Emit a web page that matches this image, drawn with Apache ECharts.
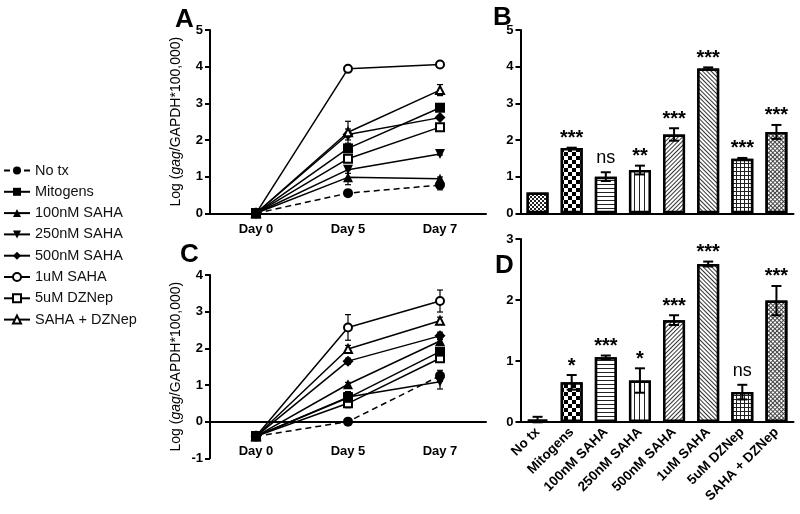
<!DOCTYPE html>
<html><head><meta charset="utf-8">
<script src="https://cdn.jsdelivr.net/npm/echarts@6/dist/echarts.min.js"></script>
<style>html,body{margin:0;padding:0;background:#fff}#c{width:800px;height:514px}</style>
</head><body><div id="c"></div>
<script>
// ---------- data ----------
const days = ['Day 0', 'Day 5', 'Day 7'];
const groups = ['No tx', 'Mitogens', '100nM SAHA', '250nM SAHA', '500nM SAHA', '1uM SAHA', '5uM DZNep', 'SAHA + DZNep'];

// Panel A (values per group at each day)
const A_day0 = [0, 0, 0, 0, 0, 0, 0, 0];
const A_day5 = [0.55, 1.77, 0.98, 1.19, 2.15, 3.94, 1.49, 2.21];
const A_day7 = [0.77, 2.88, 0.94, 1.62, 2.61, 4.06, 2.35, 3.36];
const A_err5 = [0.03, 0.05, 0.2, 0.1, 0.15, 0.03, 0.03, 0.3];
const A_err7 = [0.13, 0.03, 0.05, 0.03, 0.05, 0.02, 0.05, 0.15];

// Panel C
const C_day0 = [-0.4, -0.4, -0.4, -0.4, -0.4, -0.4, -0.4, -0.4];
const C_day5 = [0.0, 0.65, 1.02, 0.67, 1.65, 2.57, 0.5, 1.98];
const C_day7 = [1.25, 1.91, 2.2, 1.09, 2.34, 3.29, 1.73, 2.75];
const C_err5 = [0.05, 0.1, 0.05, 0.15, 0.08, 0.35, 0.12, 0.1];
const C_err7 = [0.15, 0.05, 0.05, 0.2, 0.1, 0.3, 0.1, 0.1];

// Panel B
const B_values = [0.57, 1.78, 1.0, 1.18, 2.15, 3.95, 1.49, 2.22];
const B_err = [0, 0.01, 0.12, 0.12, 0.17, 0.03, 0.02, 0.19];
const B_sig = ['', '***', 'ns', '**', '***', '***', '***', '***'];

// Panel D
const D_values = [0.04, 0.65, 1.06, 0.68, 1.67, 2.59, 0.49, 1.99];
const D_err = [0.045, 0.12, 0.03, 0.2, 0.08, 0.04, 0.12, 0.24];
const D_sig = ['', '*', '***', '*', '***', '***', 'ns', '***'];

// ---------- styles ----------
const FONT = "'Liberation Sans', Arial, sans-serif";
const symbols = ['circle', 'rect', 'triangle', 'triangle', 'diamond', 'emptyCircle', 'emptyRect', 'emptyTriangle'];
const symRot = [0, 0, 0, 180, 0, 0, 0, 0];
const dashed = [true, false, false, false, false, false, false, false];

const decals = [
  {symbol: 'rect', symbolSize: 1, dashArrayX: [[2, 2], [0, 2, 2, 0]], dashArrayY: [2, 0], color: '#222', backgroundColor: '#fff'},
  {symbol: 'rect', symbolSize: 1, dashArrayX: [[4, 4], [0, 4, 4, 0]], dashArrayY: [4, 0], color: '#000', backgroundColor: '#fff'},
  {symbol: 'rect', symbolSize: 1, dashArrayX: [1, 0], dashArrayY: [1, 3], color: '#222', backgroundColor: '#fff'},
  {symbol: 'rect', symbolSize: 1, dashArrayX: [1, 0], dashArrayY: [1, 4], rotation: Math.PI / 2, color: '#222', backgroundColor: '#fff'},
  {symbol: 'rect', symbolSize: 1, dashArrayX: [1, 0], dashArrayY: [1, 2], rotation: -Math.PI / 4, color: '#333', backgroundColor: '#fff'},
  {symbol: 'rect', symbolSize: 1, dashArrayX: [1, 0], dashArrayY: [1, 2], rotation: Math.PI / 4, color: '#333', backgroundColor: '#fff'},
  {symbol: 'rect', symbolSize: 1, dashArrayX: [[4, 0], [1, 3], [1, 3], [1, 3]], dashArrayY: [1, 0], color: '#222', backgroundColor: '#fff'},
  {symbol: 'rect', symbolSize: 1, dashArrayX: [[3, 0], [1, 2], [1, 2]], dashArrayY: [1, 0], rotation: Math.PI / 4, color: '#444', backgroundColor: '#fff'}
];

const axisLineStyle = {lineStyle: {color: '#000', width: 2}};
const tickStyle = {length: 5, lineStyle: {color: '#000', width: 2}};
const labelStyle = {color: '#000', fontWeight: 'bold', fontSize: 13, fontFamily: FONT};

const yName = '{n|Log (}{i|gag}{n|/GAPDH*100,000)}';
const yNameStyle = {rich: {n: {fontSize: 14, color: '#000', fontFamily: FONT}, i: {fontSize: 14, color: '#000', fontStyle: 'italic', fontFamily: FONT}}};

function valueAxis(grid, min, max, withName) {
  const ax = {
    type: 'value', gridIndex: grid, min: min, max: max, interval: 1,
    axisLine: Object.assign({show: true}, axisLineStyle),
    axisTick: Object.assign({show: true}, tickStyle),
    axisLabel: Object.assign({margin: 7}, labelStyle),
    splitLine: {show: false}
  };
  if (withName) {
    ax.name = yName; ax.nameLocation = 'middle'; ax.nameGap = 27; ax.nameTextStyle = yNameStyle;
  }
  return ax;
}

// ---------- line panels ----------
function lineSeries(d0, d5, d7, xIdx, yIdx) {
  return groups.map((g, i) => {
    const empty = symbols[i].startsWith('empty');
    return {
      type: 'line', name: g, xAxisIndex: xIdx, yAxisIndex: yIdx,
      data: [d0[i], d5[i], d7[i]],
      symbol: symbols[i], symbolRotate: symRot[i], symbolSize: empty ? 8 : (i === 4 ? 11 : 10),
      lineStyle: {color: '#000', width: 1.5, type: dashed[i] ? [6, 4] : 'solid'},
      itemStyle: {color: '#000', borderColor: '#000', borderWidth: empty ? 2 : 0},
      emphasis: {disabled: true},
      z: i === 1 ? 4 : 3, animation: false
    };
  });
}

function errLineData(d5, d7, e5, e7) {
  const out = [];
  groups.forEach((g, i) => {
    out.push([1, d5[i], e5[i]]);
    out.push([2, d7[i], e7[i]]);
  });
  return out;
}

function errRender(capW, lw) {
  return function (params, api) {
    const x = api.value(0), v = api.value(1), e = api.value(2);
    if (!e) return null;
    const top = api.coord([x, v + e]);
    const bot = api.coord([x, v - e]);
    const cx = top[0];
    const st = {stroke: '#000', lineWidth: lw};
    return {type: 'group', children: [
      {type: 'line', shape: {x1: cx, y1: top[1], x2: cx, y2: bot[1]}, style: st},
      {type: 'line', shape: {x1: cx - capW / 2, y1: top[1], x2: cx + capW / 2, y2: top[1]}, style: st},
      {type: 'line', shape: {x1: cx - capW / 2, y1: bot[1], x2: cx + capW / 2, y2: bot[1]}, style: st}
    ]};
  };
}

// ---------- bar panels ----------
function barSeries(values, xIdx, yIdx) {
  return {
    type: 'bar', xAxisIndex: xIdx, yAxisIndex: yIdx, barWidth: 22, animation: false,
    data: values.map((v, i) => ({value: v, itemStyle: {color: '#fff', borderColor: '#000', borderWidth: 2.5, decal: decals[i]}})),
    emphasis: {disabled: true}
  };
}

function barErrSeries(values, errs, sig, xIdx, yIdx) {
  return {
    type: 'custom', xAxisIndex: xIdx, yAxisIndex: yIdx, z: 5, animation: false,
    data: values.map((v, i) => [i, v, errs[i]]),
    renderItem: function (params, api) {
      const i = params.dataIndex;
      const x = api.value(0), v = api.value(1), e = api.value(2);
      const top = api.coord([x, v + e]);
      const bot = api.coord([x, v - e]);
      const cx = top[0];
      const st = {stroke: '#000', lineWidth: 2};
      const children = [];
      if (e > 0.005) {
        children.push({type: 'line', shape: {x1: cx, y1: top[1], x2: cx, y2: bot[1]}, style: st});
        children.push({type: 'line', shape: {x1: cx - 5, y1: top[1], x2: cx + 5, y2: top[1]}, style: st});
        children.push({type: 'line', shape: {x1: cx - 5, y1: bot[1], x2: cx + 5, y2: bot[1]}, style: st});
      }
      const s = sig[i];
      if (s) {
        const isNs = s === 'ns';
        children.push({type: 'text', style: {
          text: s, x: cx, y: top[1] - (isNs ? 14 : 9),
          align: 'center', verticalAlign: 'middle',
          fontSize: isNs ? 18 : 20, fontWeight: isNs ? 'normal' : 'bold', fontFamily: FONT, fill: '#000'
        }});
      }
      return {type: 'group', children: children};
    }
  };
}

const option = {
  backgroundColor: '#fff',
  animation: false,
  textStyle: {fontFamily: FONT},
  title: [
    {text: 'A', left: 170, top: 2, textStyle: {fontSize: 26, fontWeight: 'bold', color: '#000', fontFamily: FONT}},
    {text: 'B', left: 488, top: 0, textStyle: {fontSize: 26, fontWeight: 'bold', color: '#000', fontFamily: FONT}},
    {text: 'C', left: 175, top: 237, textStyle: {fontSize: 26, fontWeight: 'bold', color: '#000', fontFamily: FONT}},
    {text: 'D', left: 490, top: 248, textStyle: {fontSize: 26, fontWeight: 'bold', color: '#000', fontFamily: FONT}}
  ],
  legend: {
    orient: 'vertical', left: -2, top: 158, itemWidth: 26, itemHeight: 10, itemGap: 6.3,
    data: groups, selectedMode: false,
    textStyle: {fontSize: 14.5, color: '#111', fontFamily: FONT}
  },
  grid: [
    {left: 210, top: 30, width: 276, height: 183.3},
    {left: 520.5, top: 30, width: 273, height: 183.3},
    {left: 210, top: 275, width: 276, height: 183.3},
    {left: 520.5, top: 239, width: 273, height: 183}
  ],
  xAxis: [
    {type: 'category', gridIndex: 0, data: days, boundaryGap: true,
      axisLine: axisLineStyle, axisTick: Object.assign({alignWithLabel: true}, tickStyle),
      axisLabel: Object.assign({margin: 10}, labelStyle)},
    {type: 'category', gridIndex: 2, data: days, boundaryGap: true, position: 'bottom',
      axisLine: Object.assign({onZero: true}, axisLineStyle), axisTick: Object.assign({alignWithLabel: true}, tickStyle),
      axisLabel: {show: false}},
    {type: 'category', gridIndex: 2, data: days, boundaryGap: true, position: 'bottom', offset: -21,
      axisLine: {show: false, onZero: false}, axisTick: {show: false},
      axisLabel: Object.assign({margin: 8}, labelStyle)},
    {type: 'category', gridIndex: 1, data: groups, boundaryGap: true,
      axisLine: axisLineStyle, axisTick: Object.assign({alignWithLabel: true}, tickStyle),
      axisLabel: {show: false}},
    {type: 'category', gridIndex: 3, data: groups, boundaryGap: true,
      axisLine: axisLineStyle, axisTick: Object.assign({alignWithLabel: true}, tickStyle),
      axisLabel: Object.assign({margin: 8, rotate: 45, interval: 0}, labelStyle, {fontSize: 13.5})}
  ],
  yAxis: [
    valueAxis(0, 0, 5, true),
    valueAxis(2, -1, 4, true),
    valueAxis(1, 0, 5, false),
    valueAxis(3, 0, 3, false)
  ],
  series: [].concat(
    lineSeries(A_day0, A_day5, A_day7, 0, 0),
    lineSeries(C_day0, C_day5, C_day7, 1, 1),
    [
      {type: 'custom', xAxisIndex: 0, yAxisIndex: 0, z: 2, renderItem: errRender(6, 1.2), data: errLineData(A_day5, A_day7, A_err5, A_err7), animation: false},
      {type: 'custom', xAxisIndex: 1, yAxisIndex: 1, z: 2, renderItem: errRender(6, 1.2), data: errLineData(C_day5, C_day7, C_err5, C_err7), animation: false},
      barSeries(B_values, 3, 2),
      barErrSeries(B_values, B_err, B_sig, 3, 2),
      barSeries(D_values, 4, 3),
      barErrSeries(D_values, D_err, D_sig, 4, 3)
    ]
  )
};

const chart = echarts.init(document.getElementById('c'), null, {renderer: 'canvas'});
chart.setOption(option);
</script>
</body></html>
